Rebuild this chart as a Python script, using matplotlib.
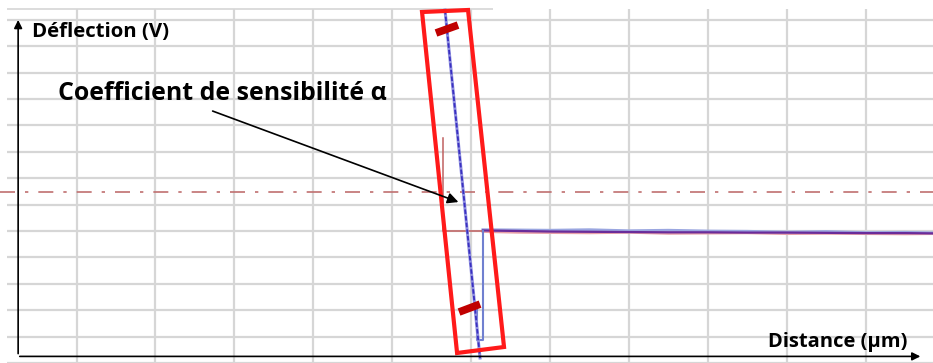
import numpy as np
import matplotlib.pyplot as plt
from matplotlib.patches import Polygon

# grid positions (one unit = one grid cell)
grid_x = [-5, -4, -3, -2, -1, 0, 1, 2, 3, 4, 5]
grid_y = [-5, -4, -3, -2, -1, 0, 1, 2, 3, 4, 5, 6, 7, 8]

# approach curve (steep linear part)
approach_x = [-0.33, 0.114]
approach_y = [8.37, -4.81]

# red vertical jump then red horizontal to contact point
jump_x = [-0.355, -0.355, 0.15]
jump_y = [3.52, 0.0, 0.0]

# blue narrow dip after contact
dip_x = [0.076, 0.076, 0.152, 0.152]
dip_y = [-2.8, -4.13, -4.13, 0.0]

# flat baseline after contact
base_x = [0.15, 0.6, 1.0, 1.5, 2.0, 2.5, 3.0, 3.5, 4.0, 4.5, 5.0, 5.5, 5.86]
base_y = [0.02, 0.0, -0.02, -0.03, -0.04, -0.05, -0.05, -0.06, -0.06, -0.07, -0.08, -0.08, -0.09]
base_pink = [-0.02, -0.05, -0.06, -0.07, -0.05, -0.09, -0.08, -0.07, -0.1, -0.09, -0.1, -0.11, -0.1]
base_blue = [0.05, 0.04, 0.03, 0.05, 0.01, 0.03, 0.0, -0.01, -0.04, -0.02, -0.06, -0.05, -0.07]

# threshold (dash-dot)
threshold_y = 1.48

# red frame around the sensitivity slope
frame_x = [-0.621, -0.038, 0.418, -0.177]
frame_y = [8.295, 8.371, -4.394, -4.621]

# dark red marks on the slope
mark1_x = [-0.444, -0.165]
mark1_y = [7.5, 7.8]
mark2_x = [-0.152, 0.114]
mark2_y = [-3.07, -2.77]

fig = plt.figure(figsize=(9.33, 3.63), dpi=100)
ax = fig.add_axes([0, 0, 1, 1])
ax.set_xlim(-5.97, 5.855)
ax.set_ylim(-5.0, 8.75)
ax.axis('off')

grid_c = '#d6d6d6'
ax.vlines(grid_x, -5.0, 8.41, color=grid_c, lw=1.6, zorder=1)
ax.hlines(grid_y, -5.88, 5.855, color=grid_c, lw=1.6, zorder=1)
ax.hlines(8.41, -5.88, 0.28, color=grid_c, lw=1.2, zorder=1)

ax.axhline(threshold_y, color='#c07070', lw=1.2, dashes=(9, 6, 2, 6), zorder=2)

ax.plot(base_x, base_pink, color='#e8a0a8', lw=2, zorder=3)
ax.plot(base_x, base_blue, color='#9aa6e0', lw=2, zorder=3)
ax.plot(base_x, base_y, color='#6a2c9a', lw=1.6, zorder=4)

ax.plot(jump_x, jump_y, color='#c06060', lw=1.1, zorder=4)
ax.plot(dip_x, dip_y, color='#7080d0', lw=1.5, zorder=4)
ax.plot(approach_x, approach_y, color='#8f8fe0', lw=2.2, zorder=5)
ax.plot(approach_x, approach_y, color='#3a30c0', lw=1.3, dashes=(2.5, 1.2), zorder=5)

ax.add_patch(Polygon(list(zip(frame_x, frame_y)), closed=True, fill=False,
                     edgecolor='#ff1a1a', lw=3, zorder=6))
ax.plot(mark1_x, mark1_y, color='#c00000', lw=5.5, solid_capstyle='butt', zorder=7)
ax.plot(mark2_x, mark2_y, color='#c00000', lw=5.5, solid_capstyle='butt', zorder=7)

# axes arrows
ax.annotate('', xy=(-5.74, 8.1), xytext=(-5.74, -4.75),
            arrowprops=dict(arrowstyle='-|>', color='black', lw=1.2, mutation_scale=12), zorder=8)
ax.annotate('', xy=(5.73, -4.75), xytext=(-5.755, -4.75),
            arrowprops=dict(arrowstyle='-|>', color='black', lw=1.2, mutation_scale=12), zorder=8)

font = ['Open Sans', 'DejaVu Sans']
ax.text(-5.564, 7.35, 'Déflection (V)', fontsize=14.7, fontweight='bold', family=font,
        ha='left', va='baseline', zorder=9)
ax.text(3.764, -4.39, 'Distance (µm)', fontsize=14.5, fontweight='bold', family=font,
        ha='left', va='baseline', zorder=9)
ax.text(-5.234, 4.96, 'Coefficient de sensibilité α', fontsize=17.9, fontweight='bold', family=font,
        ha='left', va='baseline', zorder=9)
ax.annotate('', xy=(-0.127, 1.06), xytext=(-3.308, 4.58),
            arrowprops=dict(arrowstyle='-|>', color='black', lw=1.2, mutation_scale=16), zorder=9)

fig.savefig('out.png', dpi=100)
